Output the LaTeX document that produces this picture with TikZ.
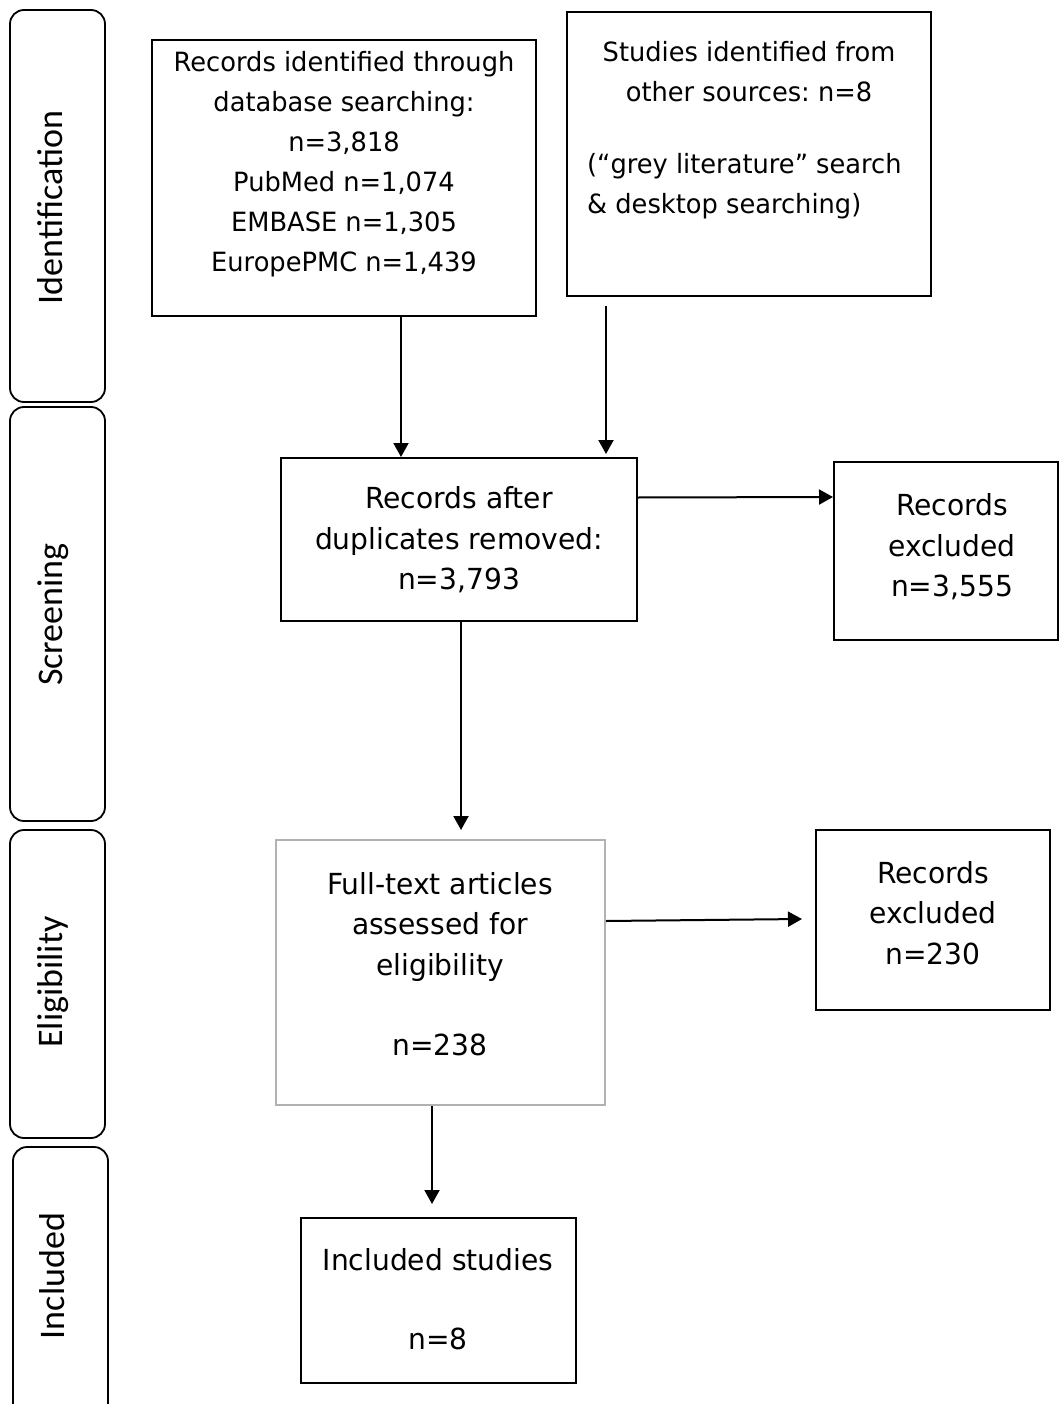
\documentclass[tikz,border=0pt]{standalone}
\usepackage{fontspec}
\setmainfont{DejaVu Sans}[FakeStretch=0.97]
\newfontfamily\lanefont{Carlito}
\usetikzlibrary{arrows.meta,calc}
\definecolor{boxgray}{RGB}{178,178,178}
\begin{document}
\frenchspacing
\begin{tikzpicture}[x=1pt,y=-1pt,
  box/.style={draw,line width=2pt,inner sep=0pt},
  lane/.style={draw,line width=1.8pt,rounded corners=14pt},
  txt/.style={align=center,inner sep=0pt,font=\fontsize{26.5}{40}\selectfont},
  txtb/.style={align=center,inner sep=0pt,font=\fontsize{29}{40.5}\selectfont},
  lanetxt/.style={inner sep=0pt,rotate=90,anchor=base,font=\lanefont\fontsize{36}{40}\selectfont},
  arr/.style={line width=2pt,-{Triangle[length=14pt,width=15pt]}}]
\useasboundingbox[fill=white] (0,0) rectangle (1059,1404);

% lanes
\draw[lane] (10,10) rectangle (105,402);
\draw[lane] (10,407) rectangle (105,821);
\draw[lane] (10,830) rectangle (105,1138);
\draw[lane] (13,1147) rectangle (108,1440);
\node[lanetxt] (lid) at (62,207.5) {Identification};
\node[lanetxt] (lsc) at (62,614.5) {Screening};
\node[lanetxt] (lel) at (62,982) {Eligibility};
\node[lanetxt] (lin) at (64,1276) {Included};

% boxes
\node[box,minimum width=384pt,minimum height=276pt] (b1) at (344,178) {};
\node[box,minimum width=364pt,minimum height=284pt] (b2) at (749,154) {};
\node[box,minimum width=356pt,minimum height=163pt] (b3) at (459,539.5) {};
\node[box,minimum width=224pt,minimum height=178pt] (b4) at (946,551) {};
\node[box,draw=boxgray,minimum width=329pt,minimum height=265pt] (b5) at (440.5,972.5) {};
\node[box,minimum width=234pt,minimum height=180pt] (b6) at (933,920) {};
\node[box,minimum width=275pt,minimum height=165pt] (b7) at (438.5,1300.5) {};

% texts
\node[txt] (t1) at (344,164) {Records identified through\\database searching:\\n=3,818\\PubMed n=1,074\\EMBASE n=1,305\\EuropePMC n=1,439};
\node[txt] (t2a) at (749,72) {Studies identified from\\other sources: n=8};
\node[txt,align=left,anchor=west] (t2b) at (587,186) {(“grey literature” search\\\& desktop searching)};
\node[txtb] (t3) at (459,540) {Records after\\duplicates removed:\\n=3,793};
\node[txtb] (t4) at (952,547) {Records\\excluded\\n=3,555};
\node[txtb] (t5) at (440,964) {Full-text articles\\assessed for\\eligibility\\[40pt]n=238};
\node[txtb] (t6) at (933,913) {Records\\excluded\\n=230};
\node[txtb] (t7) at (438,1299) {Included studies\\[38pt]n=8};

% connectors
\coordinate (x1) at (401,0);
\coordinate (x2) at (606,306);
\coordinate (x4) at (461,0);
\coordinate (x6) at (432,0);
\draw[arr] (b1.south -| x1) -- (b3.north -| x1);
\draw[arr] (x2) -- ([yshift=3pt]b3.north -| x2);
\draw[arr] ($(b3.east)+(0,-42)$) -- ($(b4.west)+(0,-54)$);
\draw[arr] (b3.south -| x4) -- ([yshift=9pt]b5.north -| x4);
\draw[arr] ($(b5.east)+(0,-51.5)$) -- ($(b6.west)+(-13,-1)$);
\draw[arr] (b5.south -| x6) -- ([yshift=13pt]b7.north -| x6);
\end{tikzpicture}
\end{document}
